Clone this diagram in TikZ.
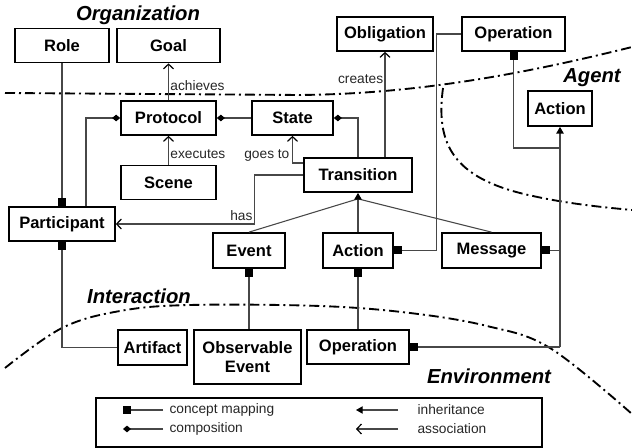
\documentclass[tikz,border=0pt]{standalone}
\usepackage{fontspec}
\setmainfont{Liberation Sans}
\usetikzlibrary{arrows.meta,calc}
\begin{document}
\begin{tikzpicture}[x=0.75pt, y=-0.75pt,
  box/.style={draw, line width=1.3pt, fill=white, inner sep=0pt,
    minimum height=25.5pt, align=center,
    font=\fontsize{12.4}{14}\selectfont\bfseries},
  conn/.style={draw=black!72, line width=0.8pt},
  cmap/.style={conn, -{Square[length=6pt,width=6pt,color=black]}},
  comp/.style={conn, -{Diamond[length=6pt,width=5pt,color=black]}},
  inh/.style={conn, -{Triangle[length=5pt,width=5.5pt,color=black]}},
  assoc/.style={conn, -{Straight Barb[length=3.5pt,width=7.5pt,color=black,line width=0.9pt]}},
  lbl/.style={font=\fontsize{10.3}{12}\selectfont, inner sep=1pt, text=black!85},
  region/.style={line width=1.4pt, dash pattern=on 7.5pt off 3pt on 1.5pt off 3pt},
  zone/.style={font=\fontsize{15.2}{18}\selectfont\bfseries\itshape, inner sep=0pt}]
\useasboundingbox (0,0) rectangle (632,448);

% region boundaries
\draw[region] (5,93) -- (300,95) .. controls (400,94) and (500,80) .. (632,47);
\draw[region] (443,88) .. controls (436,140) and (450,175) .. (520,193)
  .. controls (560,203) and (600,207) .. (632,210);
\draw[region] plot[smooth, tension=0.6] coordinates
  {(5,368) (62,328) (120,311) (190,305) (320,306) (410,313) (487,326) (550,348) (632,414)};

% region names
\node[zone] (zorg) at (138,15) {Organization};
\node[zone] (zagt) at (592,78) {Agent};
\node[zone] (zint) at (139,296) {Interaction};
\node[zone] (zenv) at (489,376) {Environment};

% concepts
\node[box, minimum width=70.5pt]  (role)  at (62,45.5)    {Role};
\node[box, minimum width=77.25pt] (goal)  at (168.5,45.5) {Goal};
\node[box, minimum width=71.25pt] (prot)  at (168.5,118)  {Protocol};
\node[box, minimum width=60.75pt] (state) at (292.5,118)  {State};
\node[box, minimum width=71.25pt] (scene) at (168.5,182.5){Scene};
\node[box, minimum width=79.5pt]  (part)  at (62,224)     {Participant};
\node[box, minimum width=81pt]    (trans) at (358,175)    {Transition};
\node[box, minimum width=72pt]    (obl)   at (385,34)     {Obligation};
\node[box, minimum width=77.25pt] (optop) at (513.5,34)   {Operation};
\node[box, minimum width=48pt, minimum height=26.25pt] (agact) at (560,108.5) {Action};
\node[box, minimum width=54pt, minimum height=26.25pt] (event) at (249,250.5) {Event};
\node[box, minimum width=52.5pt, minimum height=26.25pt] (actmid) at (358,250.5) {Action};
\node[box, minimum width=74.25pt, minimum height=26.25pt] (msg) at (491.5,250.5) {Message};
\node[box, minimum width=51.75pt, minimum height=26.25pt] (art) at (152.5,347.5) {Artifact};
\node[box, minimum width=80.25pt, minimum height=40.5pt] (obsev) at (247.5,357) {Observable\\Event};
\node[box, minimum width=76.5pt] (opbot) at (358,347) {Operation};

% organization relations
\draw[cmap] (role.south) -- (part.north);
\draw[assoc] (prot.north) -- node[lbl, right, pos=0.4] {achieves} (goal.south);
\draw[assoc] (scene.north) -- node[lbl, right, pos=0.35] {executes} (prot.south);
\draw[comp] (state.west) -- (prot.east);
\draw[comp] ([xshift=18pt]part.north) |- (prot.west);
\draw[comp] (trans.north) |- (state.east);
\draw[assoc] ([yshift=9pt]trans.west) -| (state.south);
\node[lbl, anchor=east] (goesto) at (291,155) {goes to};
\draw[assoc] (trans.west) -- ++(-49,0) |- (part.east);
\node[lbl, anchor=south east] (has) at (254,222) {has};
\draw[assoc] (obl.south |- trans.north) -- node[lbl, left, pos=0.74] {creates} (obl.south);

% agent relations
\draw[cmap] (optop.west) -- ++(-25,0) |- (actmid.east);
\draw[conn, {Square[length=6pt,width=6pt,color=black]}-] (optop.south) |- (agact.south |- 0,148);
\draw[inh] (agact.south |- opbot.east) -- (agact.south);
\draw[cmap] (agact.south |- msg.east) -- (msg.east);
\draw[cmap] (agact.south |- opbot.east) -- (opbot.east);

% transition specialisations
\coordinate (tj) at ([yshift=-4.5pt]trans.south);
\draw[conn] (event.north) -- (tj);
\draw[conn] (msg.north) -- (tj);
\draw[inh] (actmid.north) -- (trans.south);

% environment relations
\draw[cmap] (event.south |- obsev.north) -- (event.south);
\draw[cmap] (opbot.north) -- (actmid.south);
\draw[cmap] (art.west) -| (part.south);

% legend
\node[draw, line width=1.1pt, inner sep=0pt, minimum width=334.5pt, minimum height=36.75pt] (legend) at (319,422.5) {};
\coordinate (la1) at (163,410); \coordinate (lb1) at (123,410);
\coordinate (la2) at (163,429); \coordinate (lb2) at (123,429);
\coordinate (la3) at (398,410); \coordinate (lb3) at (356,410);
\coordinate (la4) at (398,429); \coordinate (lb4) at (356,429);
\draw[cmap] (la1) -- (lb1);
\draw[comp] (la2) -- (lb2);
\draw[inh] (la3) -- (lb3);
\draw[assoc] (la4) -- (lb4);
\node[lbl, anchor=west] (t1) at (168,410) {concept mapping};
\node[lbl, anchor=west] (t2) at (168,429) {composition};
\node[lbl, anchor=west] (t3) at (416,410) {inheritance};
\node[lbl, anchor=west] (t4) at (416,429) {association};
\end{tikzpicture}
\end{document}
